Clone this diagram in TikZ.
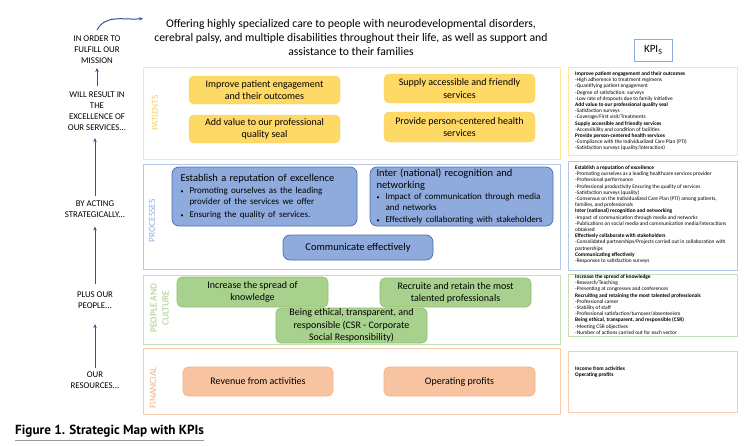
\documentclass[tikz,border=0pt]{standalone}
\usepackage{fontspec}
\setmainfont{Carlito}
\newfontfamily\capfont{PT Sans}
\usetikzlibrary{arrows.meta}
\definecolor{patband}{HTML}{FFE699}
\definecolor{patfill}{HTML}{FFD966}
\definecolor{patdraw}{HTML}{F7D35C}
\definecolor{patlab}{HTML}{FCD45A}
\definecolor{proband}{HTML}{B4C7E7}
\definecolor{profill}{HTML}{8FAADC}
\definecolor{prodraw}{HTML}{4A6FAF}
\definecolor{prolab}{HTML}{9BB3DE}
\definecolor{peoband}{HTML}{C5E0B4}
\definecolor{peofill}{HTML}{A9D18E}
\definecolor{peodraw}{HTML}{8CBF6C}
\definecolor{peolab}{HTML}{A2CD86}
\definecolor{finband}{HTML}{F8CBAD}
\definecolor{finfill}{HTML}{F8C3A0}
\definecolor{findraw}{HTML}{F4B183}
\definecolor{finlab}{HTML}{F4B183}
\definecolor{arrblue}{HTML}{2F5597}
\definecolor{capline}{HTML}{9A9A9A}
\begin{document}
\begin{tikzpicture}[x=1pt,y=-1pt,
  band/.style={draw, line width=1pt},
  boxtext/.style={font=\fontsize{10}{12.3}\selectfont, align=center, inner sep=0pt},
  patbox/.style={boxtext, rounded corners=5pt, fill=patfill, draw=patdraw},
  probox/.style={rounded corners=7pt, fill=profill, draw=prodraw, line width=0.7pt, inner sep=0pt},
  peobox/.style={boxtext, rounded corners=5pt, fill=peofill, draw=peodraw, line width=0.6pt},
  finbox/.style={boxtext, rounded corners=5pt, fill=finfill, draw=findraw, line width=0.6pt},
  bandlab/.style={rotate=90, font=\fontsize{9.5}{12}\selectfont, align=center, inner sep=0pt},
  leftlab/.style={font=\fontsize{8.8}{11}\selectfont, align=center, inner sep=0pt},
  kpitext/.style={font=\fontsize{5.4}{6.2}\selectfont, align=left, inner sep=0pt, anchor=north west},
  arr/.style={draw=arrblue, line width=1pt, -{Stealth[length=4pt,width=3.5pt]}}
]
\useasboundingbox (0,0) rectangle (750,447);
\fill[white] (0,0) rectangle (750,447);

% title
\node[font=\fontsize{11.7}{13.6}\selectfont, align=center, inner sep=0pt] (mission) at (351,37.5)
 {Offering highly specialized care to people with neurodevelopmental disorders,\\
  cerebral palsy, and multiple disabilities throughout their life, as well as support and\\
  assistance to their families};

% KPIs label
\node[draw=profill, line width=0.6pt, minimum width=38, minimum height=22, inner sep=0pt,
      font=\fontsize{11}{13}\selectfont] (kpis) at (653,50) {KPI\raisebox{-2.5pt}{\fontsize{8}{9}\selectfont S}};

% bands
\draw[band, draw=patband] (143,67) rectangle (560,159);
\draw[band, draw=proband] (143,164) rectangle (560,269);
\draw[band, draw=peoband] (143,275) rectangle (560,344);
\draw[band, draw=finband] (143,348) rectangle (560,414);

% band labels
\node[bandlab, text=patlab] (lpat) at (155,113) {PATIENTS};
\node[bandlab, text=prolab] (lpro) at (152,221) {PROCESSES};
\node[bandlab, text=peolab] (lpeo) at (159.5,308) {PEOPLE AND\\CULTURE};
\node[bandlab, text=finlab] (lfin) at (153,388) {FINANCIAL};

% patients boxes
\node[patbox, minimum width=151, minimum height=28] (p1) at (264.5,90) {Improve patient engagement\\and their outcomes};
\node[patbox, minimum width=151, minimum height=28] (p2) at (264.5,129) {Add value to our professional\\quality seal};
\node[patbox, minimum width=151, minimum height=29] (p3) at (459.5,88.5) {Supply accessible and friendly\\services};
\node[patbox, minimum width=151, minimum height=30] (p4) at (459.5,127) {Provide person-centered health\\services};

% processes boxes
\node[probox, minimum width=185, minimum height=59, text width=168, align=left] (r1) at (264.5,196.5)
 {\fontsize{10.5}{12}\selectfont Establish a reputation of excellence\\[2pt]
  \fontsize{9}{10.8}\selectfont
  \makebox[9pt][l]{\fontsize{6}{6}\selectfont\textbullet}Promoting ourselves as the leading\\
  \hspace*{9pt}provider of the services we offer\\[1pt]
  \makebox[9pt][l]{\fontsize{6}{6}\selectfont\textbullet}Ensuring the quality of services.};
\node[probox, minimum width=183, minimum height=59, text width=170, align=left] (r2) at (461.5,196.5)
 {\fontsize{10.5}{11.5}\selectfont Inter (national) recognition and\\
  networking\\[1pt]
  \fontsize{9}{10.5}\selectfont
  \makebox[9pt][l]{\fontsize{6}{6}\selectfont\textbullet}Impact of communication through media\\
  \hspace*{9pt}and networks\\
  \makebox[9pt][l]{\fontsize{6}{6}\selectfont\textbullet}Effectively collaborating with stakeholders};
\node[probox, minimum width=150, minimum height=25, font=\fontsize{10.5}{12}\selectfont] (r3) at (358,247.5) {Communicate effectively};

% people boxes
\node[peobox, minimum width=151, minimum height=30] (c1) at (252.5,292) {Increase the spread of\\knowledge};
\node[peobox, minimum width=151, minimum height=29] (c2) at (455.5,292.5) {Recruite and retain the most\\talented professionals};
\node[peobox, minimum width=151, minimum height=35] (c3) at (351.5,325.5) {Being ethical, transparent, and\\responsible (CSR - Corporate\\Social Responsibility)};

% financial boxes
\node[finbox, minimum width=150, minimum height=29] (f1) at (258,381.5) {Revenue from activities};
\node[finbox, minimum width=151, minimum height=29] (f2) at (459.5,381.5) {Operating profits};

% KPI boxes
\draw[band, draw=patband] (568,67) rectangle (737,155);
\draw[band, draw=proband] (568,161) rectangle (737,270);
\draw[band, draw=peoband] (568,274) rectangle (737,336);
\draw[band, draw=finband] (568,351) rectangle (737,412);

\node[kpitext] (k1) at (575,71.5) {\textbf{Improve patient engagement and their outcomes}\\
-High adherence to treatment regimens\\
-Quantifying patient engagement\\
-Degree of satisfaction: surveys\\
-Low rate of dropouts due to family initiative\\
\textbf{Add value to our professional quality seal}\\
-Satisfaction surveys\\
-Coverage/First visit/Treatments\\
\textbf{Supply accessible and friendly services}\\
-Accessibility and condition of facilities\\
\textbf{Provide person-centered health services}\\
-Compliance with the Individualized Care Plan (PTI)\\
-Satisfaction surveys (quality/interaction)};

\node[kpitext] (k2) at (575,165.5) {\textbf{Establish a reputation of excellence}\\
-Promoting ourselves as a leading healthcare services provider\\
-Professional performance\\
-Professional productivity Ensuring the quality of services\\
-Satisfaction surveys (quality)\\
-Consensus on the Individualized Care Plan (PTI) among patients,\\
families, and professionals\\
\textbf{Inter (national) recognition and networking}\\
-Impact of communication through media and networks\\
-Publications on social media and communication media/interactions\\
obtained\\
\textbf{Effectively collaborate with stakeholders}\\
-Consolidated partnerships/Projects carried out in collaboration with\\
partnerships\\
\textbf{Communicating effectively}\\
-Responses to satisfaction surveys};

\node[kpitext] (k3) at (575,274.5) {\textbf{Increase the spread of knowledge}\\
-Research/Teaching\\
-Presenting at congresses and conferences\\
\textbf{Recruiting and retaining the most talented professionals}\\
-Professional career\\
-Stability of staff\\
-Professional satisfaction/turnover/absenteeism\\
\textbf{Being ethical, transparent, and responsible (CSR)}\\
-Meeting CSR objectives\\
-Number of actions carried out for each vector};

\node[kpitext] (k4) at (575,366.5) {\textbf{Income from activities}\\
\textbf{Operating profits}};

% left column
\node[leftlab] (fulfill) at (97,50) {IN ORDER TO\\FULFILL OUR\\MISSION};
\node[leftlab] (result) at (97,111.5) {WILL RESULT IN\\THE\\EXCELLENCE OF\\OUR SERVICES...};
\node[leftlab] (acting) at (95,209) {BY ACTING\\STRATEGICALLY...};
\node[leftlab] (plus) at (95,300.5) {PLUS OUR\\PEOPLE...};
\node[leftlab] (res) at (95,380.5) {OUR\\RESOURCES...};

\coordinate (curvestart) at (97,30);
\coordinate (curveend) at (143,18.5);
\coordinate (upstart) at (97,86);
\coordinate (upend) at (97,68);
\draw[arr] (curvestart) to[out=62,in=186] (curveend);
\draw[arr] (upstart) -- (upend);
\draw[arr, shorten <=4pt, shorten >=7pt] (acting.north) -- (acting.north |- result.south);
\draw[arr, shorten <=8pt, shorten >=9pt] (plus.north) -- (acting.south);
\draw[arr, shorten <=4pt, shorten >=15pt] (res.north) -- (plus.south);

% caption
\node[font=\capfont\bfseries\fontsize{13.2}{15}\selectfont, anchor=west, inner sep=0pt] (cap) at (15,431.5) {Figure 1. Strategic Map with KPIs};
\draw[capline, line width=1.5pt] (cap.west |- 0,440.5) -- (cap.east |- 0,440.5);
\end{tikzpicture}
\end{document}
